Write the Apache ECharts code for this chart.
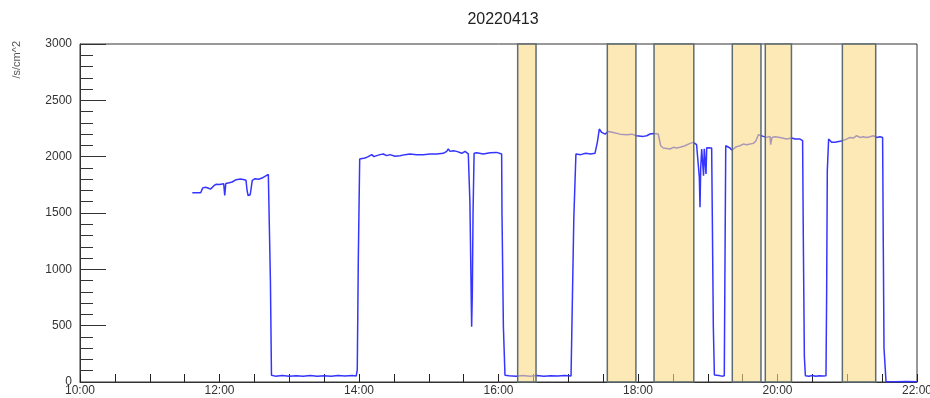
<!DOCTYPE html>
<html>
<head>
<meta charset="utf-8">
<script src="https://cdn.jsdelivr.net/npm/echarts@6/dist/echarts.min.js"></script>
<style>html,body{margin:0;padding:0;background:#fff;}#c{width:930px;height:398px;}</style>
</head>
<body>
<div id="c"></div>
<script>
// Time of day (hours) and flux (/s/cm^2)
const hours = [
  11.61,11.73,11.76,11.80,11.835,11.87,11.89,11.92,11.95,12.00,12.06,12.075,12.09,12.14,12.18,12.24,12.30,12.34,12.38,12.395,12.41,12.44,12.47,12.51,12.56,12.61,12.67,12.70,12.715,12.73,12.745,
  12.80,12.90,13.00,13.10,13.20,13.30,13.40,13.50,13.60,13.70,13.80,13.90,13.96,13.975,13.99,14.01,
  14.014,14.086,14.133,14.182,14.215,14.254,14.301,14.349,14.397,14.444,14.516,14.588,14.659,14.731,14.827,14.922,15.018,15.114,15.209,15.257,15.280,15.305,15.352,15.401,15.473,15.520,15.567,
  15.581,15.59,15.615,15.625,15.635,15.65,15.687,15.783,15.878,15.974,15.997,16.045,16.05,16.07,16.093,
  16.15,16.25,16.35,16.45,16.55,16.65,16.75,16.85,16.95,17.04,17.063,17.08,17.11,
  17.18,17.25,17.32,17.383,17.40,17.417,17.445,17.48,17.527,17.575,17.646,17.742,17.838,17.91,17.933,17.98,18.076,18.125,18.172,18.22,18.29,18.315,18.325,18.363,18.459,18.506,18.555,18.602,18.674,18.746,18.793,18.84,
  18.865,18.879,18.889,18.899,18.913,18.93,18.94,18.95,18.96,18.975,18.985,19.008,19.056,19.065,19.08,19.095,
  19.12,19.16,19.20,19.237,19.247,19.258,
  19.319,19.343,19.366,19.414,19.462,19.51,19.558,19.606,19.653,19.692,19.725,19.749,19.797,19.845,19.892,19.902,19.921,19.964,20.036,20.131,20.203,20.251,20.275,20.323,20.346,20.36,20.37,20.385,20.40,
  20.45,20.50,20.55,20.60,20.65,20.695,20.705,20.714,20.733,
  20.776,20.824,20.896,20.943,20.991,21.039,21.087,21.134,21.183,21.23,21.278,21.326,21.373,21.422,21.47,21.494,21.507,21.517,21.527,21.556,
  21.70,21.85,22.0
];
const flux = [
  1679,1679,1723,1728,1722,1712,1706,1742,1755,1752,1760,1655,1762,1768,1775,1796,1802,1798,1790,1700,1655,1662,1790,1805,1800,1810,1832,1842,1840,900,60,
  52,58,50,56,51,57,50,55,52,58,53,57,54,106,1080,1980,
  1988,1988,2000,2018,2000,2009,2018,2024,2009,2018,2003,2009,2018,2024,2018,2018,2024,2024,2030,2047,2068,2047,2053,2047,2030,2047,2024,
  2024,1600,490,800,1500,2030,2034,2024,2034,2038,2030,2024,1500,490,60,
  55,50,57,52,58,51,56,53,58,54,60,1460,2024,
  2018,2030,2024,2030,2038,2127,2245,2215,2200,2224,2215,2200,2195,2200,2186,2186,2180,2186,2201,2205,2201,2186,2097,2077,2068,2083,2077,2083,2097,2118,2127,2106,
  2112,1817,1551,1900,2068,2060,1830,2070,2083,1847,2080,2083,2077,1493,490,62,
  55,58,52,56,1050,2097,
  2077,2059,2068,2089,2097,2112,2106,2112,2118,2142,2195,2201,2180,2171,2180,2106,2171,2177,2171,2156,2165,2156,2171,2156,2165,2142,1286,224,56,
  52,58,51,56,53,56,814,1876,2156,
  2127,2127,2136,2145,2156,2171,2165,2186,2171,2177,2171,2177,2186,2171,2177,2165,2171,1197,300,3,
  2,4,3
];
// Shaded intervals (hours)
const bandStart = [16.275, 17.56, 18.23, 19.352, 19.825, 20.93];
const bandEnd   = [16.538, 17.97, 18.80, 19.763, 20.20, 21.408];
const titleText = '20220413';
const yName = '/s/cm^2';

const lineData = hours.map((h, i) => [h, flux[i]]);
const bandData = bandStart.map((s, i) => [s, bandEnd[i]]);
const FONT = 'Liberation Sans, Arial, sans-serif';

const chart = echarts.init(document.getElementById('c'), null, {renderer: 'canvas'});
chart.setOption({
  animation: false,
  backgroundColor: '#ffffff',
  title: {
    text: titleText, left: 498, top: 7, textAlign: 'center',
    textStyle: {fontFamily: FONT, fontSize: 16, fontWeight: 'normal', color: '#222'}
  },
  graphic: [{
    type: 'text', left: 11, top: 41, rotation: Math.PI / 2,
    style: {text: yName, fontFamily: FONT, fontSize: 11, fill: '#555'}
  }],
  grid: {left: 80, right: 13, top: 44, bottom: 16, outerBoundsMode: 'none', containLabel: false,
         show: true, borderColor: '#333', borderWidth: 1, backgroundColor: 'transparent'},
  xAxis: {
    type: 'value', min: 10, max: 22, interval: 0.5,
    axisLine: {show: true, onZero: false, lineStyle: {color: '#333', width: 1}},
    axisTick: {show: true, inside: true, length: 8, lineStyle: {color: '#222', width: 1}},
    axisLabel: {
      fontFamily: FONT, fontSize: 12, color: '#333', margin: 3, showMinLabel: true, showMaxLabel: true,
      formatter: v => (Math.abs(v - Math.round(v)) < 1e-6 && Math.round(v) % 2 === 0) ? (Math.round(v) + ':00') : ''
    },
    splitLine: {show: false}
  },
  yAxis: {
    type: 'value', min: 0, max: 3000, interval: 500,
    axisLine: {show: true, lineStyle: {color: '#333', width: 1}},
    axisTick: {show: true, inside: true, length: 26, lineStyle: {color: '#333', width: 1}},
    minorTick: {show: true, splitNumber: 5, length: 13, lineStyle: {color: '#333', width: 1}},
    axisLabel: {fontFamily: FONT, fontSize: 12, color: '#333', margin: 8, formatter: v => String(v)},
    splitLine: {show: false}
  },
  series: [
    {
      type: 'line', data: lineData, showSymbol: false, symbol: 'none', z: 2,
      lineStyle: {color: '#3535ff', width: 1.5}
    },
    {
      type: 'custom', z: 5, data: bandData, silent: true,
      renderItem: function (params, api) {
        const s = api.value(0), e = api.value(1);
        const p0 = api.coord([s, 3000]);
        const p1 = api.coord([e, 0]);
        return {
          type: 'rect',
          shape: {x: p0[0], y: p0[1], width: p1[0] - p0[0], height: p1[1] - p0[1]},
          style: {fill: 'rgba(252,218,132,0.6)', stroke: '#5e6d74', lineWidth: 1.5}
        };
      }
    }
  ]
});
</script>
</body>
</html>
